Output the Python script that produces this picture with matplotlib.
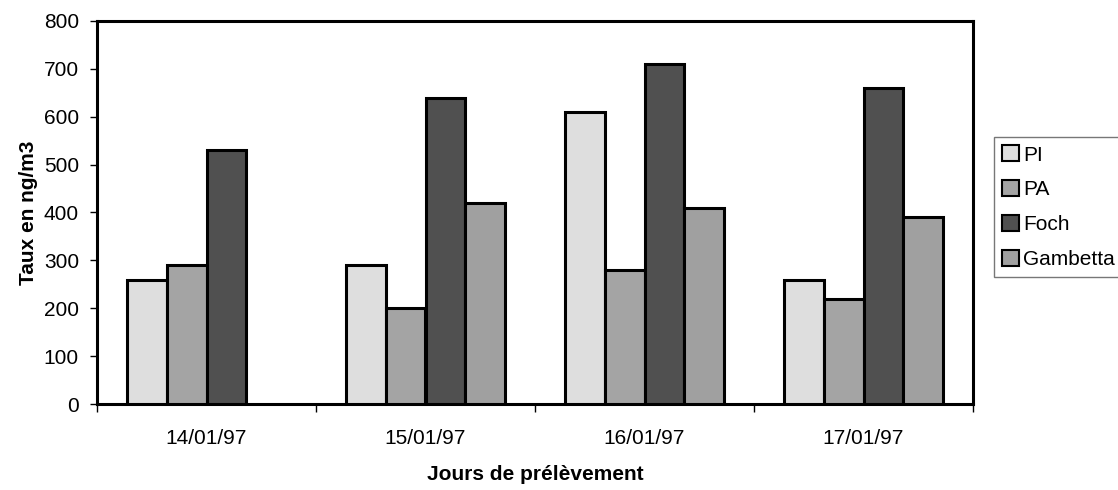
import numpy as np
import matplotlib
matplotlib.use("Agg")
import matplotlib.pyplot as plt

plt.rcParams['font.family'] = ['Liberation Sans', 'DejaVu Sans']

categories = ["14/01/97", "15/01/97", "16/01/97", "17/01/97"]
series_names = ["PI", "PA", "Foch", "Gambetta"]
pi_vals = [260, 290, 610, 260]
pa_vals = [290, 200, 280, 220]
foch_vals = [530, 640, 710, 660]
gambetta_vals = [np.nan, 420, 410, 390]
colors = ["#dedede", "#a4a4a4", "#505050", "#a0a0a0"]

fig = plt.figure(figsize=(11.18, 4.9), dpi=100)
ax = fig.add_axes([97/1118, 1-404/490, (973-97)/1118, (404-21)/490])

x = np.arange(len(categories))
w = 1/5.5
all_vals = [pi_vals, pa_vals, foch_vals, gambetta_vals]
for i, (name, vals, c) in enumerate(zip(series_names, all_vals, colors)):
    ax.bar(x + (i - 1.5) * w, vals, width=w, color=c, edgecolor="black",
           linewidth=2.2, label=name, zorder=3)

ax.set_xlim(-0.5, len(categories) - 0.5)
ax.set_ylim(0, 800)
ax.set_yticks(np.arange(0, 801, 100))
ax.tick_params(axis='y', labelsize=15, length=5, width=1, direction='out', pad=8)
ax.set_xticks(x)
ax.set_xticklabels(categories)
ax.tick_params(axis='x', which='major', length=0, labelsize=15, pad=18)
ax.set_xticks(np.arange(-0.5, len(categories), 1), minor=True)
ax.tick_params(axis='x', which='minor', length=6, width=1, direction='out')

for s in ax.spines.values():
    s.set_linewidth(2.2)
    s.set_color("black")

ax.set_ylabel("Taux en ng/m3", fontsize=15, fontweight='bold', labelpad=4)
ax.set_xlabel("Jours de prélèvement", fontsize=15, fontweight='bold', labelpad=12)

leg = fig.legend(loc='upper left', bbox_to_anchor=(994/1118, 1-137/490),
                 fontsize=15, frameon=True, fancybox=False, edgecolor="#555555",
                 handlelength=0.8, handleheight=0.8, handletextpad=0.2,
                 labelspacing=0.75, borderpad=0.4, borderaxespad=0)
leg.get_frame().set_linewidth(1.0)
for h in leg.legend_handles:
    h.set_linewidth(1.5)

fig.savefig("out.png", dpi=100)
